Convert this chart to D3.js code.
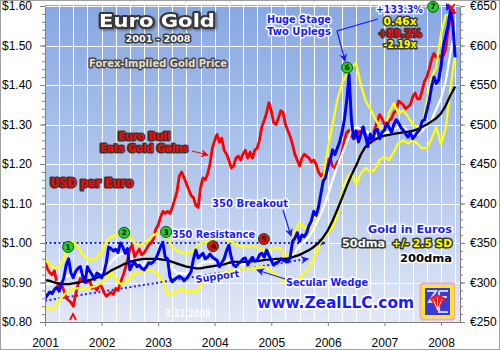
<!DOCTYPE html>
<html>
<head>
<meta charset="utf-8">
<script src="https://cdn.jsdelivr.net/npm/d3@7"></script>
<style>
  html, body { margin: 0; padding: 0; background: #fff; }
  svg { display: block; }
  .lbl { font-family: "DejaVu Sans", Verdana, sans-serif; font-weight: bold; paint-order: stroke; stroke-linejoin: round; }
  .axis text { font-family: "Liberation Sans", Arial, sans-serif; font-size: 12px; fill: #000; }
  .axis path, .axis line { stroke: #7f7f7f; }
</style>
</head>
<body>
<svg id="chart" width="500" height="350"></svg>
<script>
// ---- data -------------------------------------------------------------
const START_YEAR = 2001;
const yearTicks = [2001, 2002, 2003, 2004, 2005, 2006, 2007, 2008];
const usdTicks = [0.8, 0.9, 1.0, 1.1, 1.2, 1.3, 1.4, 1.5, 1.6];
const eurTicks = [250, 300, 350, 400, 450, 500, 550, 600, 650];

// USD per euro, twice a month from Jan 2001
const usdPerEuro = [
  0.955,0.935,0.925,0.920,0.930,0.900,0.890,0.895,0.880,0.860,0.855,0.850,0.840,0.870,0.895,0.910,0.905,0.915,0.900,0.905,0.885,0.890,0.880,0.895,
  0.890,0.875,0.865,0.870,0.875,0.870,0.885,0.880,0.900,0.915,0.935,0.955,0.985,0.995,0.965,0.975,0.985,0.970,0.975,0.985,0.995,1.000,1.010,1.035,
  1.045,1.065,1.080,1.075,1.080,1.075,1.090,1.110,1.130,1.170,1.180,1.165,1.150,1.135,1.120,1.115,1.095,1.090,1.140,1.165,1.160,1.175,1.200,1.240,
  1.260,1.275,1.255,1.265,1.235,1.225,1.210,1.190,1.195,1.215,1.220,1.210,1.225,1.235,1.215,1.230,1.215,1.235,1.240,1.260,1.295,1.310,1.330,1.355,
  1.335,1.305,1.300,1.315,1.335,1.330,1.300,1.285,1.270,1.250,1.225,1.210,1.195,1.215,1.225,1.220,1.215,1.205,1.210,1.200,1.180,1.170,1.175,1.185,
  1.210,1.215,1.195,1.190,1.205,1.210,1.230,1.260,1.280,1.285,1.270,1.265,1.275,1.280,1.290,1.280,1.270,1.265,1.255,1.265,1.290,1.310,1.325,1.315,
  1.300,1.295,1.310,1.315,1.330,1.335,1.360,1.355,1.350,1.340,1.345,1.350,1.370,1.380,1.365,1.365,1.385,1.410,1.420,1.440,1.465,1.480,1.470,1.475,
  1.470,1.475,1.490,1.540,1.565,1.590,1.580
];

// Gold price in euros, twice a month from Jan 2001
const goldInEuros = [
  280,284,288,286,291,294,289,298,306,322,330,312,306,314,318,320,308,300,320,314,310,304,312,310,
  306,312,325,345,343,340,342,338,350,345,337,343,316,322,326,320,322,318,316,320,325,324,326,330,
  337,345,351,332,330,307,301,304,306,308,306,302,305,309,314,330,341,331,334,337,330,332,336,332,
  330,328,320,325,330,340,347,332,322,320,324,326,330,331,322,328,332,327,328,335,337,332,341,334,
  328,322,325,326,330,328,327,326,332,352,356,363,352,360,358,363,372,378,390,385,395,412,428,433,
  446,455,468,462,470,478,490,506,530,563,505,482,492,478,488,497,485,472,488,480,492,494,482,490,
  493,502,496,490,500,506,502,496,493,488,484,490,482,486,490,494,504,506,518,530,548,560,552,556,
  573,600,612,625,645,628,585
];

// Monthly readings of the 50-day average, its +/- 2.5 SD band and the 200-day average
const ma50 = [
  298,298,299,302,305,309,310,310,311,312,312,313,
  313,318,326,332,336,337,331,327,323,322,323,325,
  330,331,325,318,312,312,311,314,318,324,326,326,
  326,324,325,328,326,323,323,325,327,328,330,331,
  330,328,327,328,332,338,347,352,358,368,380,394,
  410,430,447,462,478,492,497,494,492,488,486,486,
  488,491,494,497,496,492,488,487,492,500,505,520,
  533,555,590,620
];
const bandUpper = [
  330,322,318,320,330,348,352,345,335,330,328,332,
  338,352,358,360,362,363,358,350,347,350,354,360,
  363,366,358,345,341,338,337,338,345,350,351,352,
  355,357,356,353,350,347,345,345,346,345,342,341,
  342,344,343,332,336,366,375,370,366,378,396,430,
  470,500,531,552,563,572,578,550,530,520,508,497,
  493,515,527,514,518,510,500,497,496,530,560,572,
  615,638,640,612
];
const bandLower = [
  270,266,268,278,284,290,292,293,292,293,294,296,
  300,305,313,305,298,300,305,312,313,314,316,315,
  310,303,285,286,289,292,288,290,287,296,302,306,
  309,311,313,315,316,316,317,318,318,319,320,318,
  314,310,305,300,298,298,305,312,318,330,345,357,
  363,370,385,415,432,440,424,438,445,440,443,455,
  459,455,465,477,480,476,480,476,470,470,482,497,
  475,495,545,590
];
const ma200 = [
  303,302,300,299,298,298,299,300,301,302,304,306,
  308,311,315,318,321,324,326,328,329,330,330,330,
  330,329,328,326,324,322,320,319,318,318,319,320,
  321,322,323,325,326,326,326,326,327,327,328,329,
  329,330,330,330,331,333,335,338,341,345,350,357,
  366,378,392,407,422,436,448,462,472,477,481,484,
  486,487,488,489,490,491,492,494,497,500,504,508,
  514,524,537,548
];

// Numbered signal markers: [year, euro level, label, colour]
const signals = [
  [2001.41, 345, "1", "green"], [2002.40, 363, "2", "green"], [2003.14, 364, "3", "green"],
  [2003.97, 346, "4", "red"],   [2004.87, 355, "5", "red"],   [2006.34, 572, "6", "green"],
  [2007.86, 649, "7", "green"]
];
// Trend lines in euros: [year, euro]
const resistanceLine = [[2001.0, 350], [2005.95, 350]];
const supportLine = [[2001.0, 277], [2005.65, 330]];

// ---- scales -------------------------------------------------------------
const svg = d3.select("#chart");
const L = 45, R = 460, T = 5, B = 322;
const x = d3.scaleLinear().domain([2001, 2008]).range([45, 441]);
const xMax = x.invert(R);
const yUsd = d3.scaleLinear().domain([0.8, 1.6]).range([B, 6]);
const yEur = d3.scaleLinear().domain([250, 650]).range([B, 6]);

const defs = svg.append("defs");
const grad = defs.append("linearGradient").attr("id", "bg").attr("x1", 0).attr("y1", 0).attr("x2", 0).attr("y2", 1);
grad.append("stop").attr("offset", "0%").attr("stop-color", "#88a8e2");
grad.append("stop").attr("offset", "55%").attr("stop-color", "#b4c8ec");
grad.append("stop").attr("offset", "100%").attr("stop-color", "#e2e8f5");
defs.append("clipPath").attr("id", "plotClip").append("rect")
  .attr("x", L).attr("y", T).attr("width", R - L).attr("height", B - T);
const shadow = defs.append("filter").attr("id", "shadow").attr("x", "-10%").attr("y", "-20%").attr("width", "130%").attr("height", "150%");
shadow.append("feDropShadow").attr("dx", 1.2).attr("dy", 1.2).attr("stdDeviation", 0.8)
  .attr("flood-color", "#202020").attr("flood-opacity", 0.55);

function arrowMarker(id, color, size) {
  defs.append("marker").attr("id", id).attr("viewBox", "0 0 10 10")
    .attr("refX", 9).attr("refY", 5).attr("markerWidth", size).attr("markerHeight", size)
    .attr("orient", "auto").attr("markerUnits", "userSpaceOnUse")
    .append("path").attr("d", "M0,0 L10,5 L0,10 L3,5 Z").attr("fill", color);
}
arrowMarker("arrBlue", "#1a1aff", 8);
arrowMarker("arrRed", "#ff0000", 8);

// page frame
svg.append("rect").attr("x", 0.5).attr("y", 0.5).attr("width", 499).attr("height", 349)
  .attr("fill", "#fff").attr("stroke", "#a0a0a0");

// plot background
svg.append("rect").attr("x", L).attr("y", T).attr("width", R - L).attr("height", B - T).attr("fill", "url(#bg)");

// grid
const grid = svg.append("g").attr("stroke", "#ffffff").attr("stroke-width", 1);
d3.range(1, 30).map(k => 2001 + k / 4).filter(t => t < xMax).forEach(t => {
  grid.append("line").attr("x1", Math.round(x(t)) + 0.5).attr("x2", Math.round(x(t)) + 0.5).attr("y1", T).attr("y2", B);
});
usdTicks.slice(1).forEach(v => {
  grid.append("line").attr("x1", L).attr("x2", R).attr("y1", Math.round(yUsd(v)) + 0.5).attr("y2", Math.round(yUsd(v)) + 0.5);
});

// ---- series -------------------------------------------------------------
const pts = (arr, step) => arr.map((v, i) => [START_YEAR + i * step, v]);
const lineEur = d3.line().x(d => x(d[0])).y(d => yEur(d[1]));
const lineUsd = d3.line().x(d => x(d[0])).y(d => yUsd(d[1]));
const plotG = svg.append("g").attr("clip-path", "url(#plotClip)");

// trend lines
plotG.append("path").attr("d", lineEur(resistanceLine)).attr("fill", "none")
  .attr("stroke", "#2222ee").attr("stroke-width", 2).attr("stroke-dasharray", "2,2.5")
  .attr("marker-end", "url(#arrBlue)");
plotG.append("path").attr("d", lineEur(supportLine)).attr("fill", "none")
  .attr("stroke", "#2222ee").attr("stroke-width", 2).attr("stroke-dasharray", "2,2.5")
  .attr("marker-end", "url(#arrBlue)");

const series = [
  { d: lineUsd(pts(usdPerEuro, 1 / 24)), c: "#ff0000", w: 2.8 },
  { d: lineEur(pts(bandLower, 1 / 12)), c: "#ffff00", w: 2.3 },
  { d: lineEur(pts(bandUpper, 1 / 12)), c: "#ffff00", w: 2.3 },
  { d: lineEur(pts(ma50, 1 / 12)), c: "#ffffff", w: 2.3 },
  { d: lineEur(pts(ma200, 1 / 12)), c: "#000000", w: 2.3 },
  { d: lineEur(pts(goldInEuros, 1 / 24)), c: "#0000ff", w: 3 }
];
series.forEach(s => plotG.append("path").attr("d", s.d).attr("fill", "none")
  .attr("stroke", s.c).attr("stroke-width", s.w).attr("stroke-linejoin", "round"));

// ---- axes ---------------------------------------------------------------
svg.append("g").attr("class", "axis").attr("transform", `translate(${L},0)`)
  .call(d3.axisLeft(yUsd).tickValues(usdTicks).tickFormat(d => "$" + d.toFixed(2)).tickSize(5).tickPadding(8).tickSizeOuter(0));
svg.append("g").attr("class", "axis").attr("transform", `translate(${L},0)`)
  .call(d3.axisLeft(yUsd).tickValues(d3.range(0, 41).map(i => 0.8 + i * 0.02)).tickFormat("").tickSize(3).tickSizeOuter(0))
  .select(".domain").remove();
svg.append("g").attr("class", "axis").attr("transform", `translate(${R},0)`)
  .call(d3.axisRight(yEur).tickValues(eurTicks).tickFormat(d => "€" + d).tickSize(5).tickPadding(5).tickSizeOuter(0));
svg.append("g").attr("class", "axis").attr("transform", `translate(${R},0)`)
  .call(d3.axisRight(yEur).tickValues(d3.range(0, 41).map(i => 250 + i * 10)).tickFormat("").tickSize(3).tickSizeOuter(0))
  .select(".domain").remove();
svg.append("g").attr("class", "axis").attr("transform", `translate(0,${B})`)
  .call(d3.axisBottom(x).tickValues(yearTicks).tickFormat(d => String(d)).tickSize(4).tickPadding(12).tickSizeOuter(0))
  .select(".domain").attr("d", `M${L},0.5H${R}`);

// ---- annotations --------------------------------------------------------
function label(txt, px, py, o) {
  const t = svg.append("text").attr("class", "lbl").attr("x", px).attr("y", py)
    .attr("font-size", o.size || 10).attr("fill", o.fill).attr("stroke", o.stroke || "none")
    .attr("stroke-width", o.sw || 3).attr("text-anchor", o.anchor || "start").text(txt);
  if (o.len) t.attr("textLength", o.len).attr("lengthAdjust", "spacingAndGlyphs");
  if (o.rot) t.attr("transform", `rotate(${o.rot},${px},${py})`);
  if (o.op) t.attr("opacity", o.op);
  return t;
}
const dark = "#383838";
label("Euro Gold", 157, 27, { size: 18.5, fill: "#fff", stroke: dark, sw: 4, anchor: "middle", len: 116 })
  .attr("filter", "url(#shadow)");
label("2001 - 2008", 158, 42, { size: 9.5, fill: "#fff", stroke: dark, anchor: "middle", len: 65 });
label("Forex-Implied Gold Price", 158, 67, { size: 10, fill: "#e4ded2", stroke: "#4a4a4a", anchor: "middle", len: 138 });

label("+133.3%", 376, 13, { size: 11, fill: "#1a1aff", stroke: "#fff", len: 47 });
label("0.46x", 400, 25, { size: 10, fill: "#ffff00", stroke: dark, anchor: "middle", len: 33 });
label("+89.2%", 400, 37, { size: 10, fill: "#ff0000", stroke: dark, anchor: "middle", len: 43 });
label("-2.19x", 400, 48, { size: 10, fill: "#ffff00", stroke: dark, anchor: "middle", len: 33 });

label("Huge Stage", 299, 23, { size: 10, fill: "#1a1aff", stroke: "#fff", anchor: "middle", len: 64 });
label("Two Uplegs", 299, 35, { size: 10, fill: "#1a1aff", stroke: "#fff", anchor: "middle", len: 64 });
svg.append("path").attr("d", "M378,19 L337,31 L345,61").attr("fill", "none")
  .attr("stroke", "#1a1aff").attr("stroke-width", 1.2).attr("marker-end", "url(#arrBlue)");

label("Euro Bull", 144, 140, { size: 10, fill: "#ff0000", stroke: dark, anchor: "middle", len: 52 });
label("Eats Gold Gains", 144, 152, { size: 10, fill: "#ff0000", stroke: dark, anchor: "middle", len: 88 });
svg.append("line").attr("x1", 192).attr("y1", 151).attr("x2", 208).attr("y2", 155)
  .attr("stroke", "#ff0000").attr("stroke-width", 1.2).attr("marker-end", "url(#arrRed)");
label("USD per Euro", 50, 187, { size: 11.5, fill: "#ff0000", stroke: dark, sw: 3.2, len: 83 });

label("350 Breakout", 212, 207, { size: 10, fill: "#1a1aff", stroke: "#fff", len: 76 });
svg.append("line").attr("x1", 283).attr("y1", 210).attr("x2", 291).attr("y2", 236)
  .attr("stroke", "#1a1aff").attr("stroke-width", 1.2).attr("marker-end", "url(#arrBlue)");
label("350 Resistance", 172, 238, { size: 10, fill: "#1a1aff", stroke: "#fff", len: 83 });
label("Support", 196, 283, { size: 10, fill: "#1a1aff", stroke: "#fff", len: 44, rot: -8 });
label("Secular Wedge", 286, 286, { size: 10, fill: "#1a1aff", stroke: "#fff", len: 82 });
svg.append("line").attr("x1", 285).attr("y1", 279).attr("x2", 257).attr("y2", 270)
  .attr("stroke", "#1a1aff").attr("stroke-width", 1.2).attr("marker-end", "url(#arrBlue)");
label("www.ZealLLC.com", 257, 308, { size: 15, fill: "#1a1aff", stroke: "#fff", sw: 3.4, len: 157 });
label("3.31.2008", 165, 317, { size: 10, fill: "#ffffff", stroke: "none", len: 46, op: 0.8 });

label("Gold in Euros", 452, 233, { size: 10, fill: "#1a1aff", stroke: "#fff", anchor: "end", len: 84 });
label("50dma", 342, 247, { size: 10, fill: "#fff", stroke: dark, len: 43 });
label("+/- 2.5 SD", 452, 247, { size: 10, fill: "#ffff00", stroke: dark, anchor: "end", len: 60 });
label("200dma", 452, 262, { size: 10, fill: "#000", stroke: "#fff", anchor: "end", len: 52 });

// signal circles
signals.forEach(([t, v, n, c]) => {
  const g = svg.append("g").attr("transform", `translate(${x(t)},${yEur(v)})`);
  g.append("circle").attr("r", 5.5).attr("fill", c === "green" ? "#1fd11f" : "#e01010")
    .attr("stroke", "#1a4a1a").attr("stroke-width", 1);
  g.append("text").attr("class", "lbl").attr("y", 2.6).attr("text-anchor", "middle")
    .attr("font-size", 7.5).attr("fill", "#111").text(n);
});

// extreme markers
svg.append("path").attr("d", "M446,3 L452,7 L446,11 Z").attr("fill", "#1a1aff");
svg.append("path").attr("d", "M448,4 L451.5,8 L455,4 M451.5,8 L451.5,12").attr("fill", "none")
  .attr("stroke", "#ff0000").attr("stroke-width", 1.8);
svg.append("path").attr("d", "M70,320 L73,314 L76,320").attr("fill", "none")
  .attr("stroke", "#ff0000").attr("stroke-width", 1.8);

// logo
const logo = svg.append("g").attr("transform", "translate(422,285)");
logo.append("rect").attr("x", -1.5).attr("y", -1.5).attr("width", 34).attr("height", 36).attr("rx", 3)
  .attr("fill", "none").attr("stroke", "#f2aaaa").attr("stroke-width", 2);
logo.append("rect").attr("x", 0).attr("y", 0).attr("width", 31).attr("height", 33).attr("rx", 2).attr("fill", "#ffe81a");
logo.append("rect").attr("x", 3).attr("y", 3).attr("width", 25).attr("height", 27).attr("fill", "#3a3ad8");
logo.append("path").attr("d", "M5,6 H14 L7,17 H14 M17,6 H26 M17,12 H25 M17,6 V27 H26")
  .attr("fill", "none").attr("stroke", "#c8d0ff").attr("stroke-width", 2.2);
logo.append("path").attr("d", "M15.5,25 L8,14 A9,9 0 0 1 23,14 Z").attr("fill", "#ee1c1c");
logo.append("path").attr("d", "M15.5,25 L11,14 M15.5,25 L15.5,12 M15.5,25 L20,14").attr("stroke", "#fff").attr("stroke-width", 0.8);
</script>
</body>
</html>
